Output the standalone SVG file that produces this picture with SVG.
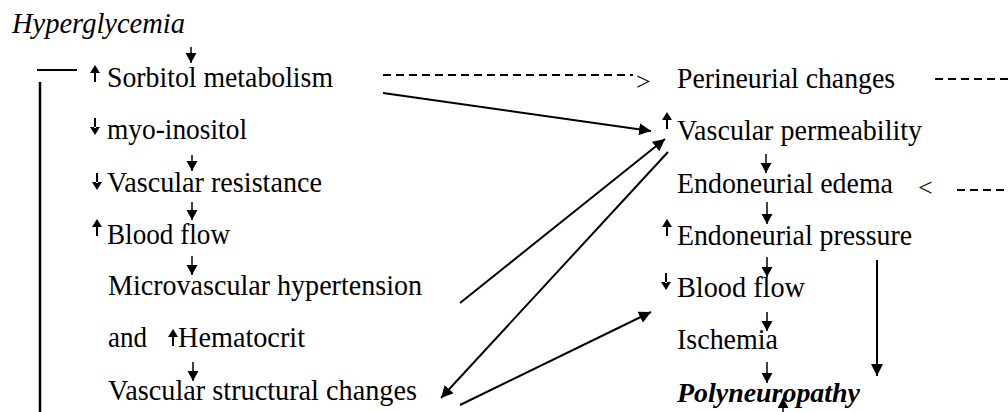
<svg xmlns="http://www.w3.org/2000/svg" width="1008" height="412" viewBox="0 0 1008 412">
<defs>
<marker id="ah" markerUnits="userSpaceOnUse" markerWidth="14" markerHeight="12" refX="12" refY="6" orient="auto">
<path d="M0,0 L12,6 L0,12 z" fill="#000"/>
</marker>
<marker id="sh" markerUnits="userSpaceOnUse" markerWidth="12" markerHeight="12" refX="10" refY="5.5" orient="auto">
<path d="M0,0 L10,5.5 L0,11 z" fill="#000"/>
</marker>
<path id="up" d="M-5,8 L0,0 L5,8 z M-1,7 h2 v10 h-2 z" fill="#000"/>
<path id="dn" d="M-5,9 L0,17 L5,9 z M-1,0 h2 v10 h-2 z" fill="#000"/>
</defs>

<g id="bracket" stroke="#000" fill="none">
<line x1="37" y1="70" x2="77" y2="70" stroke-width="2"/>
<line x1="40" y1="82" x2="40" y2="412" stroke-width="2.5"/>
</g>

<g font-family="Liberation Serif" font-size="29" fill="#000">
<g id="hyperglycemia"><text font-style="italic" x="12" y="33" textLength="173" lengthAdjust="spacingAndGlyphs">Hyperglycemia</text></g>
<g id="sorbitol"><use href="#up" x="95" y="65"/><text x="107" y="87" textLength="226" lengthAdjust="spacingAndGlyphs">Sorbitol metabolism</text></g>
<g id="myoinositol"><use href="#dn" x="95" y="118"/><text x="107" y="139" textLength="140" lengthAdjust="spacingAndGlyphs">myo-inositol</text></g>
<g id="vascular-resistance"><use href="#dn" x="97" y="173"/><text x="107" y="192" textLength="215" lengthAdjust="spacingAndGlyphs">Vascular resistance</text></g>
<g id="blood-flow-left"><use href="#up" x="97" y="219"/><text x="107" y="244" textLength="123" lengthAdjust="spacingAndGlyphs">Blood flow</text></g>
<g id="microvascular"><text x="108" y="295" textLength="314" lengthAdjust="spacingAndGlyphs">Microvascular hypertension</text></g>
<g id="hematocrit"><text x="108" y="347" textLength="39" lengthAdjust="spacingAndGlyphs">and</text><use href="#up" x="173" y="329"/><text x="178" y="347" textLength="127" lengthAdjust="spacingAndGlyphs">Hematocrit</text></g>
<g id="vascular-structural"><text x="108" y="400" textLength="309" lengthAdjust="spacingAndGlyphs">Vascular structural changes</text></g>

<g id="perineurial"><text x="677" y="88" textLength="218" lengthAdjust="spacingAndGlyphs">Perineurial changes</text></g>
<g id="vascular-permeability"><use href="#up" x="667" y="112"/><text x="677" y="140" textLength="245" lengthAdjust="spacingAndGlyphs">Vascular permeability</text></g>
<g id="endoneurial-edema"><text x="677" y="193" textLength="216" lengthAdjust="spacingAndGlyphs">Endoneurial edema</text></g>
<g id="endoneurial-pressure"><use href="#up" x="667" y="219"/><text x="677" y="245" textLength="235" lengthAdjust="spacingAndGlyphs">Endoneurial pressure</text></g>
<g id="blood-flow-right"><use href="#dn" x="666" y="273"/><text x="677" y="297" textLength="128" lengthAdjust="spacingAndGlyphs">Blood flow</text></g>
<g id="ischemia"><text x="677" y="349" textLength="101" lengthAdjust="spacingAndGlyphs">Ischemia</text></g>
<g id="polyneuropathy"><text font-size="28" font-style="italic" font-weight="bold" x="677" y="402" textLength="183" lengthAdjust="spacingAndGlyphs">Polyneuropathy</text></g>
</g>

<g id="connectors" stroke="#000" fill="none" stroke-width="2">
<g stroke-width="1.5">
<line x1="191" y1="47" x2="191" y2="63" marker-end="url(#sh)"/>
<line x1="192" y1="155" x2="192" y2="171" marker-end="url(#sh)"/>
<line x1="192" y1="202" x2="192" y2="220" marker-end="url(#sh)"/>
<line x1="192" y1="256" x2="192" y2="275" marker-end="url(#sh)"/>
<line x1="193" y1="362" x2="193" y2="381" marker-end="url(#sh)"/>
<line x1="766" y1="154" x2="766" y2="173" marker-end="url(#sh)"/>
<line x1="767" y1="202" x2="767" y2="224" marker-end="url(#sh)"/>
<line x1="767" y1="257" x2="767" y2="277" marker-end="url(#sh)"/>
<line x1="767" y1="312" x2="767" y2="331" marker-end="url(#sh)"/>
<line x1="767" y1="362" x2="767" y2="383" marker-end="url(#sh)"/>
<line x1="783" y1="412" x2="783" y2="398" marker-end="url(#sh)"/>
</g>
<g stroke-dasharray="8 5">
<line x1="383" y1="75" x2="633" y2="75"/>
<line x1="935" y1="79" x2="1008" y2="79"/>
<line x1="957" y1="190" x2="1008" y2="190"/>
</g>
<line x1="383" y1="93" x2="651" y2="131" marker-end="url(#ah)"/>
<line x1="460" y1="303" x2="665" y2="139" marker-end="url(#ah)"/>
<line x1="668" y1="152" x2="441" y2="398" marker-end="url(#ah)"/>
<line x1="460" y1="405" x2="651" y2="312" marker-end="url(#ah)"/>
<line x1="877" y1="260" x2="877" y2="376" marker-end="url(#ah)"/>
</g>
<g id="connector-symbols" font-family="Liberation Serif" font-size="26" fill="#000">
<text x="636" y="90">&gt;</text>
<text x="918" y="196">&lt;</text>
</g>
</svg>
